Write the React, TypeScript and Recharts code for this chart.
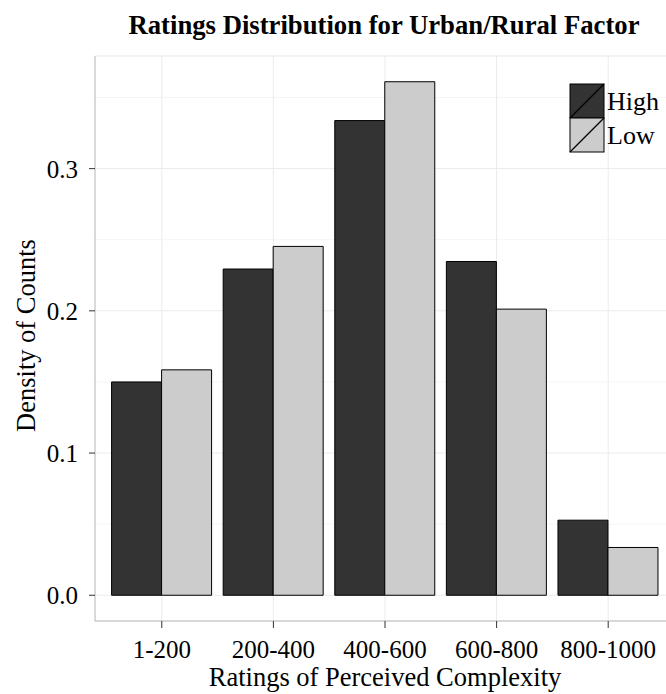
import React from 'react';
import { BarChart, Bar, XAxis, YAxis, CartesianGrid, Legend } from 'recharts';

const categories = ['1-200', '200-400', '400-600', '600-800', '800-1000'];
const highValues = [0.150, 0.2294, 0.3338, 0.2347, 0.0528];
const lowValues = [0.1585, 0.2453, 0.3611, 0.2012, 0.0336];
const seriesNames = ['High', 'Low'];
const seriesColors = ['#333333', '#cccccc'];
const yTicks = [0, 0.1, 0.2, 0.3];
const yMinorTicks = [0.05, 0.15, 0.25, 0.35];
const yDomain = [-0.0181, 0.3792];

const data = categories.map((c, i) => ({ category: c, high: highValues[i], low: lowValues[i] }));

const FONT = '"Liberation Serif", "Times New Roman", serif';

const renderLegend = (props: any) => {
  const payload = (props.payload || []) as any[];
  return (
    <svg width={100} height={72} style={{ display: 'block' }}>
      {payload.map((p, i) => (
        <g key={p.value}>
          <rect x={1} y={1 + i * 34} width={34} height={34} fill={p.color} stroke="#000" strokeWidth={1} />
          <line x1={1} y1={35 + i * 34} x2={35} y2={1 + i * 34} stroke="#000" strokeWidth={1.2} />
          <text x={38} y={27 + i * 34} fontSize={26} fontFamily={FONT} fill="#000">{p.value}</text>
        </g>
      ))}
    </svg>
  );
};

export default function App() {
  return (
    <div style={{ position: 'absolute', left: 0, top: 0, width: 666, height: 694, overflow: 'hidden', background: '#fff' }}>
      <div
        style={{
          position: 'absolute',
          left: 384,
          top: 12,
          transform: 'translateX(-50%)',
          whiteSpace: 'nowrap',
          fontFamily: FONT,
          fontWeight: 'bold',
          fontSize: 26.7,
          lineHeight: '27px',
          color: '#000',
        }}
      >
        Ratings Distribution for Urban/Rural Factor
      </div>
      <BarChart
        width={680}
        height={694}
        data={data}
        margin={{ top: 56, right: 5, left: 0, bottom: 0 }}
        barCategoryGap="5%"
        barGap={0}
        style={{ position: 'absolute', left: 0, top: 0, fontFamily: FONT }}
      >
        <CartesianGrid yAxisId="minor" vertical={false} stroke="#f5f5f5" strokeWidth={1} />
        <CartesianGrid stroke="#ebebeb" strokeWidth={1} />
        <XAxis
          dataKey="category"
          height={73}
          padding={{ left: 11, right: 11 }}
          tickSize={7}
          tickMargin={12}
          tick={{ fill: '#000', fontSize: 25, fontFamily: FONT }}
          tickLine={{ stroke: '#333' }}
          axisLine={{ stroke: '#bdbdbd' }}
          label={{ value: 'Ratings of Perceived Complexity', position: 'insideBottom', offset: 8, fill: '#000', fontSize: 26.5, fontFamily: FONT }}
        />
        <XAxis
          xAxisId="top"
          dataKey="category"
          orientation="top"
          height={0}
          tick={false}
          tickLine={false}
          axisLine={{ stroke: '#bdbdbd' }}
        />
        <YAxis
          width={95}
          domain={yDomain}
          ticks={yTicks}
          allowDataOverflow
          tickSize={6}
          tickMargin={11}
          tickFormatter={(v: number) => v.toFixed(1)}
          tick={{ fill: '#000', fontSize: 25, fontFamily: FONT }}
          tickLine={{ stroke: '#333' }}
          axisLine={{ stroke: '#bdbdbd' }}
          label={{ value: 'Density of Counts', angle: -90, position: 'insideLeft', offset: 26, dy: -3, fill: '#000', fontSize: 26.5, fontFamily: FONT, style: { textAnchor: 'middle' } }}
        />
        <YAxis yAxisId="minor" hide domain={yDomain} ticks={yMinorTicks} allowDataOverflow />
        <Legend
          layout="vertical"
          align="center"
          verticalAlign="middle"
          wrapperStyle={{ position: 'absolute', left: 569, top: 83, width: 100, height: 72 }}
          content={renderLegend}
        />
        <Bar dataKey="high" name={seriesNames[0]} fill={seriesColors[0]} stroke="#000" strokeWidth={1} isAnimationActive={false} />
        <Bar dataKey="low" name={seriesNames[1]} fill={seriesColors[1]} stroke="#000" strokeWidth={1} isAnimationActive={false} />
      </BarChart>
    </div>
  );
}
